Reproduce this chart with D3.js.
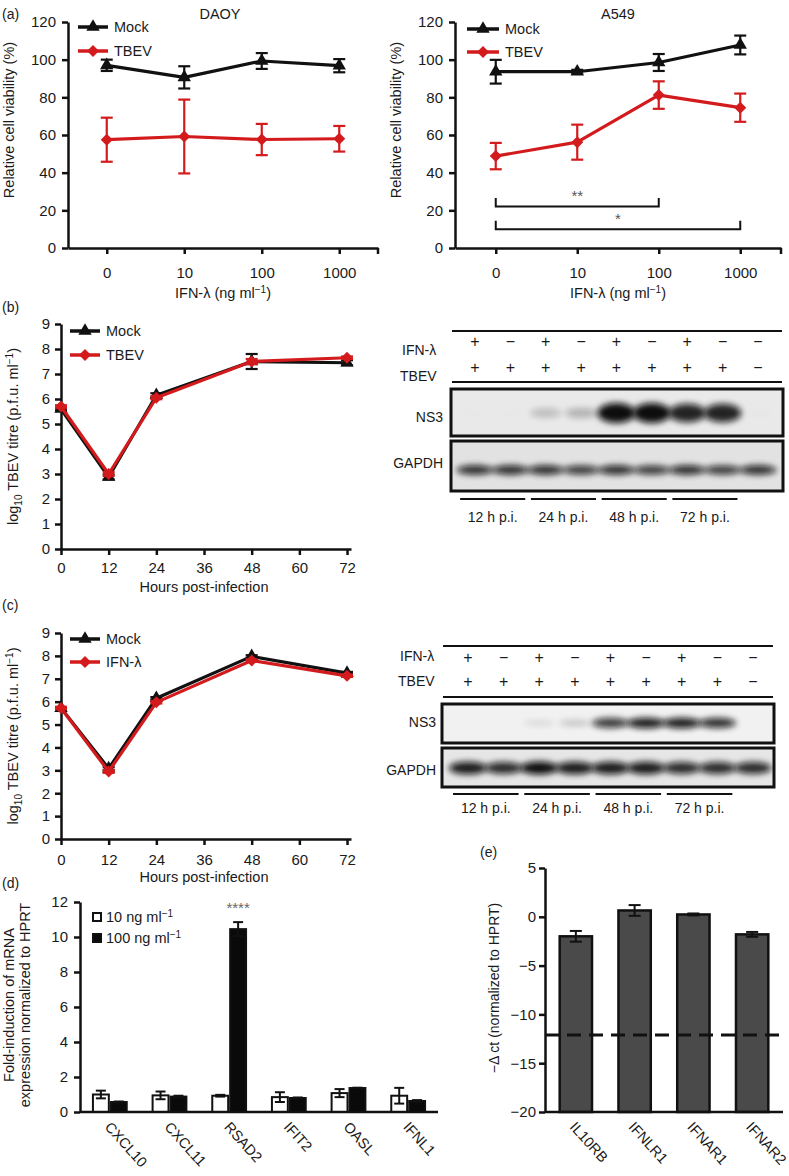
<!DOCTYPE html>
<html><head><meta charset="utf-8">
<script src="https://cdn.jsdelivr.net/npm/d3@7"></script>
<style>body{margin:0;background:#fff} svg{display:block;font-family:'Liberation Sans',Arial,Helvetica,sans-serif}</style>
</head><body><svg id="c" width="789" height="1176"></svg>
<script>
// ---------------- DATA ----------------
const doseLabels = ["0","10","100","1000"];
const daoyMock = [97, 90.6, 99.3, 96.8];
const daoyMockErr = [3, 5.9, 4.2, 3.5];
const daoyTbev = [57.5, 59.2, 57.6, 58];
const daoyTbevErr = [11.7, 19.6, 8.3, 6.8];
const a549Mock = [93.6, 93.6, 98.5, 107.8];
const a549MockErr = [6.3, 1, 4.5, 5];
const a549Tbev = [48.8, 56.2, 81.2, 74.5];
const a549TbevErr = [7, 9.3, 7.3, 7.5];
const sigBrackets = [{from:"0", to:"100", y:22, label:"**"}, {from:"0", to:"1000", y:10, label:"*"}];

const hours = [0, 12, 24, 48, 72];
const hourTicks = [0, 12, 24, 36, 48, 60, 72];
const bMock = [5.6, 2.88, 6.15, 7.5, 7.45];
const bMockErr = [0.05, 0.1, 0.08, 0.3, 0.1];
const bTbev = [5.7, 3.0, 6.05, 7.5, 7.65];
const bTbevErr = [0.05, 0.08, 0.06, 0.1, 0.05];
const cMock = [5.72, 3.08, 6.15, 7.98, 7.25];
const cMockErr = [0.05, 0.06, 0.05, 0.05, 0.05];
const cIfn = [5.72, 2.95, 5.97, 7.8, 7.13];
const cIfnErr = [0.05, 0.06, 0.05, 0.05, 0.05];

const lanes = [0,1,2,3,4,5,6,7,8];
const ifnSigns = ["+","−","+","−","+","−","+","−","−"];
const tbevSigns = ["+","+","+","+","+","+","+","+","−"];
const timeGroups = ["12 h p.i.","24 h p.i.","48 h p.i.","72 h p.i."];
const ns3B = [0.02, 0.02, 0.3, 0.35, 1, 1, 0.92, 0.92, 0.05];
const gapdhB = [0.9, 0.9, 0.9, 0.85, 0.9, 0.85, 0.9, 0.85, 0.9];
const ns3C = [0.01, 0.01, 0.2, 0.3, 0.85, 0.95, 0.95, 0.9, 0.01];
const gapdhC = [0.95, 0.9, 1, 0.95, 0.95, 0.95, 0.9, 0.9, 0.9];

const genes = ["CXCL10","CXCL11","RSAD2","IFIT2","OASL","IFNL1"];
const doses = ["10","100"];
const d10 = [1.0, 0.95, 0.93, 0.85, 1.08, 0.93];
const d10Err = [0.22, 0.22, 0.05, 0.28, 0.23, 0.45];
const d100 = [0.57, 0.88, 10.45, 0.8, 1.37, 0.63];
const d100Err = [0.03, 0.05, 0.4, 0.03, 0.02, 0.05];

const receptors = ["IL10RB","IFNLR1","IFNAR1","IFNAR2"];
const eVals = [-2.0, 0.65, 0.24, -1.8];
const eErr = [0.55, 0.55, 0.1, 0.25];
const eThreshold = -12.1;

// ---------------- HELPERS ----------------
const FF = "'Liberation Sans', Arial, Helvetica, sans-serif";
const RED = "#d31b1d", INK = "#111";
const svg = d3.select("#c");
const defs = svg.append("defs");
defs.append("filter").attr("id","blur").attr("x","-50%").attr("y","-100%").attr("width","200%").attr("height","300%")
  .append("feGaussianBlur").attr("stdDeviation", 3);

function rich(t, parts){
  if (typeof parts === "string") parts = [[parts, null]];
  let shift = 0;
  parts.forEach(([s, m]) => {
    const target = m === "sup" ? -5 : m === "sub" ? 4 : 0;
    const ts = t.append("tspan").text(s);
    if (target - shift) ts.attr("dy", target - shift);
    if (m) ts.attr("font-size", 10);
    shift = target;
  });
}
function label(x, y, parts, o = {}){
  const t = svg.append("text").attr("x", x).attr("y", y)
    .attr("font-size", o.size || 14).attr("fill", o.fill || "#1a1a1a")
    .attr("text-anchor", o.anchor || "start");
  if (o.rotate) t.attr("transform", `rotate(${o.rotate},${x},${y})`);
  rich(t, parts);
  return t;
}
function styleAxis(g, fs){
  g.attr("font-family", FF).attr("font-size", fs || 15);
  g.select(".domain").attr("stroke", INK).attr("stroke-width", 2.5);
  g.selectAll(".tick line").attr("stroke", INK).attr("stroke-width", 2.5);
  g.selectAll(".tick text").attr("fill", "#1a1a1a");
}
const triSym = d3.symbol(d3.symbolTriangle, 78);
const diaSym = d3.symbol(d3.symbolSquare, 72);
function marker(g, cx, cy, shape, color){
  g.append("path").attr("d", shape === "tri" ? triSym() : diaSym())
    .attr("transform", `translate(${cx},${cy})` + (shape === "tri" ? "" : " rotate(45)"))
    .attr("fill", color);
}
function series(x, y, xs, vals, errs, color, shape){
  const g = svg.append("g");
  g.append("path").datum(vals)
    .attr("d", d3.line().x((d, i) => x(xs[i])).y(d => y(d)))
    .attr("fill", "none").attr("stroke", color).attr("stroke-width", 3.2).attr("stroke-linejoin", "round");
  const eb = g.append("g").attr("stroke", color).attr("stroke-width", 2.2);
  vals.forEach((v, i) => {
    const e = errs[i]; if (!e) return;
    const cx = x(xs[i]);
    eb.append("line").attr("x1", cx).attr("x2", cx).attr("y1", y(v - e)).attr("y2", y(v + e));
    [v - e, v + e].forEach(w => eb.append("line").attr("x1", cx - 6).attr("x2", cx + 6).attr("y1", y(w)).attr("y2", y(w)));
  });
  vals.forEach((v, i) => marker(g, x(xs[i]), y(v), shape, color));
}
function legend(x0, x1, y, color, shape, parts){
  svg.append("line").attr("x1", x0).attr("x2", x1).attr("y1", y).attr("y2", y)
    .attr("stroke", color).attr("stroke-width", 3.5);
  marker(svg, (x0 + x1) / 2, y, shape, color);
  label(x1 + 6, y + 5, parts, {size: 14.5});
}

// ---------------- PANEL (a) ----------------
function panelA(o){
  const x = d3.scalePoint().domain(doseLabels).range(o.xr).padding(0.5);
  const y = d3.scaleLinear().domain([0, 120]).range([248, 22]);
  const gy = svg.append("g").attr("transform", `translate(${o.xr[0]},0)`)
    .call(d3.axisLeft(y).tickValues(d3.range(0, 121, 20)).tickSize(6).tickSizeOuter(0).tickPadding(6));
  styleAxis(gy);
  const gx = svg.append("g").attr("transform", `translate(0,${y(0)})`)
    .call(d3.axisBottom(x).tickSize(6).tickSizeOuter(0).tickPadding(13));
  styleAxis(gx);
  gx.append("line").attr("x1", x.range()[1]).attr("x2", x.range()[1]).attr("y1", 0).attr("y2", 6)
    .attr("stroke", INK).attr("stroke-width", 2.5);
  label((o.xr[0] + o.xr[1]) / 2, 298, [["IFN-λ (ng ml", null], ["−1", "sup"], [")", null]], {anchor: "middle", size: 14.5});
  label(o.titleX, 19, o.title, {anchor: "middle", size: 14.5});
  label(o.yTitleX, 120, "Relative cell viability (%)", {anchor: "middle", rotate: -90, size: 14.5});
  series(x, y, doseLabels, o.mock, o.mockErr, INK, "tri");
  series(x, y, doseLabels, o.tbev, o.tbevErr, RED, "dia");
  legend(o.leg[0], o.leg[1], o.leg[2], INK, "tri", "Mock");
  legend(o.leg[0], o.leg[1], o.leg[3], RED, "dia", "TBEV");
  if (o.sig) {
    o.sig.forEach(b => {
      const x0 = x(b.from), x1 = x(b.to), yy = y(b.y), yt = y(b.y + 4.5);
      svg.append("path").attr("d", `M${x0},${yt}V${yy}H${x1}V${yt}`)
        .attr("fill", "none").attr("stroke", INK).attr("stroke-width", 2);
      label((x0 + x1) / 2, yt + 3, b.label, {anchor: "middle", size: 15, fill: "#555"});
    });
  }
}
label(2, 19, "(a)");
panelA({xr: [68, 378], title: "DAOY", titleX: 220, yTitleX: 14, mock: daoyMock, mockErr: daoyMockErr,
  tbev: daoyTbev, tbevErr: daoyTbevErr, leg: [78, 108, 27, 51]});
panelA({xr: [455, 781], title: "A549", titleX: 618, yTitleX: 401, mock: a549Mock, mockErr: a549MockErr,
  tbev: a549Tbev, tbevErr: a549TbevErr, leg: [467, 499, 29, 52], sig: sigBrackets});

// ---------------- PANELS (b),(c) growth curves ----------------
function growth(o){
  const x = d3.scaleLinear().domain([0, 73]).range([61, 351]);
  const y = d3.scaleLinear().domain([0, 9]).range(o.yr);
  const gy = svg.append("g").attr("transform", `translate(61,0)`)
    .call(d3.axisLeft(y).tickValues(d3.range(0, 10)).tickSize(6).tickSizeOuter(0).tickPadding(5));
  styleAxis(gy);
  const gx = svg.append("g").attr("transform", `translate(0,${o.yr[0]})`)
    .call(d3.axisBottom(x).tickValues(hourTicks).tickSize(6).tickSizeOuter(0).tickPadding(o.xpad));
  styleAxis(gx);
  label(204, o.xTitleY, "Hours post-infection", {anchor: "middle", size: 14.5});
  label(18, (o.yr[0] + o.yr[1]) / 2, [["log", null], ["10", "sub"], [" TBEV titre (p.f.u. ml", null], ["−1", "sup"], [")", null]],
    {anchor: "middle", rotate: -90, size: 14.5});
  series(x, y, hours, o.a, o.aErr, INK, "tri");
  series(x, y, hours, o.b, o.bErr, RED, "dia");
  legend(70, 100, o.leg[0], INK, "tri", "Mock");
  legend(70, 100, o.leg[1], RED, "dia", o.bName);
}
label(2, 312, "(b)");
growth({yr: [549, 324], xpad: 7, xTitleY: 592, a: bMock, aErr: bMockErr, b: bTbev, bErr: bTbevErr, leg: [331, 355], bName: "TBEV"});
label(2, 610, "(c)");
growth({yr: [839, 633], xpad: 9, xTitleY: 882, a: cMock, aErr: cMockErr, b: cIfn, bErr: cIfnErr, leg: [639, 662], bName: "IFN-λ"});

// ---------------- Western blots ----------------
function blot(o){
  const lane = d3.scalePoint().domain(lanes).range(o.lanes);
  const st = lane.step();
  const g = svg.append("g");
  [o.top, o.bottom].forEach(yy => g.append("line").attr("x1", o.box[0] + 1).attr("x2", o.box[1] - 1)
    .attr("y1", yy).attr("y2", yy).attr("stroke", INK).attr("stroke-width", 2));
  label(o.labelX, o.ifnLabelY, "IFN-λ");
  label(o.labelX - 2, o.tbevLabelY, "TBEV");
  ifnSigns.forEach((s, i) => label(lane(i), o.ifnY, s, {anchor: "middle", size: 16}));
  tbevSigns.forEach((s, i) => label(lane(i), o.tbevY, s, {anchor: "middle", size: 16}));
  o.panels.forEach((p, k) => {
    const id = o.id + "clip" + k;
    defs.append("clipPath").attr("id", id).append("rect")
      .attr("x", o.box[0]).attr("y", p.y0).attr("width", o.box[1] - o.box[0]).attr("height", p.y1 - p.y0);
    const pg = g.append("g").attr("clip-path", `url(#${id})`);
    pg.append("rect").attr("x", o.box[0]).attr("y", p.y0).attr("width", o.box[1] - o.box[0]).attr("height", p.y1 - p.y0)
      .attr("fill", p.bg);
    pg.selectAll("ellipse").data(p.vals).join("ellipse")
      .attr("cx", (d, i) => lane(i)).attr("cy", p.cy)
      .attr("rx", d => st * (0.4 + 0.14 * d)).attr("ry", d => p.ry0 + d * p.ry1)
      .attr("fill", "#0a0a0a").attr("opacity", d => Math.min(1, Math.pow(d, 1.3))).attr("filter", "url(#blur)");
    g.append("rect").attr("x", o.box[0]).attr("y", p.y0).attr("width", o.box[1] - o.box[0]).attr("height", p.y1 - p.y0)
      .attr("fill", "none").attr("stroke", INK).attr("stroke-width", 3);
    label(o.nameX, p.labelY, p.name, {anchor: "end"});
  });
  timeGroups.forEach((t, k) => {
    const a = lane(2 * k) - 0.42 * st, b = lane(2 * k + 1) + 0.42 * st;
    g.append("line").attr("x1", a).attr("x2", b).attr("y1", o.timeLineY).attr("y2", o.timeLineY)
      .attr("stroke", INK).attr("stroke-width", 2);
    label((a + b) / 2, o.timeTextY, t, {anchor: "middle"});
  });
}
blot({id: "b", lanes: [475, 758], box: [451, 783], top: 331, bottom: 382, labelX: 402, ifnLabelY: 355, tbevLabelY: 381,
  ifnY: 347, tbevY: 373, nameX: 443, timeLineY: 499, timeTextY: 522,
  panels: [
    {name: "NS3", y0: 389, y1: 436, cy: 413, vals: ns3B, bg: "#e9e9e9", ry0: 2, ry1: 8, labelY: 422},
    {name: "GAPDH", y0: 441, y1: 491, cy: 470, vals: gapdhB, bg: "#e2e2e2", ry0: 2, ry1: 3, labelY: 468}
  ]});
blot({id: "c", lanes: [468, 753], box: [442, 774], top: 646, bottom: 697, labelX: 400, ifnLabelY: 661, tbevLabelY: 686,
  ifnY: 663, tbevY: 687, nameX: 436, timeLineY: 794, timeTextY: 813,
  panels: [
    {name: "NS3", y0: 704, y1: 743, cy: 723, vals: ns3C, bg: "#f1f1f1", ry0: 1.5, ry1: 4, labelY: 727},
    {name: "GAPDH", y0: 748, y1: 787, cy: 768, vals: gapdhC, bg: "#e6e6e6", ry0: 2, ry1: 4.5, labelY: 775}
  ]});

// ---------------- PANEL (d) ----------------
label(2, 888, "(d)");
(function(){
  const x = d3.scaleBand().domain(genes).range([80, 438]).paddingInner(0.4).paddingOuter(0.2);
  const xs = d3.scaleBand().domain(doses).range([0, x.bandwidth()]);
  const y = d3.scaleLinear().domain([0, 12]).range([1112, 902]);
  const gy = svg.append("g").attr("transform", "translate(80,0)")
    .call(d3.axisLeft(y).tickValues(d3.range(0, 13, 2)).tickSize(6).tickSizeOuter(0).tickPadding(6));
  styleAxis(gy);
  const vals = {"10": d10, "100": d100}, errs = {"10": d10Err, "100": d100Err};
  const g = svg.append("g");
  genes.forEach((gn, i) => {
    doses.forEach(ds => {
      const v = vals[ds][i], e = errs[ds][i];
      const bx = x(gn) + xs(ds), w = xs.bandwidth();
      g.append("rect").attr("x", bx + 1).attr("y", y(v)).attr("width", w - 2).attr("height", y(0) - y(v))
        .attr("fill", ds === "10" ? "#fff" : "#0a0a0a").attr("stroke", INK).attr("stroke-width", 2);
      const cx = bx + w / 2;
      g.append("line").attr("x1", cx).attr("x2", cx).attr("y1", y(v - e)).attr("y2", y(v + e)).attr("stroke", INK).attr("stroke-width", 2);
      [v - e, v + e].forEach(q => g.append("line").attr("x1", cx - 5).attr("x2", cx + 5).attr("y1", y(q)).attr("y2", y(q))
        .attr("stroke", INK).attr("stroke-width", 2));
    });
  });
  const gx = svg.append("g").attr("transform", `translate(0,${y(0)})`)
    .call(d3.axisBottom(x).tickSize(0).tickSizeOuter(0));
  styleAxis(gx, 14.5);
  gx.select(".domain").attr("d", `M${x.range()[0]},0H${x.range()[1]}`);
  gx.selectAll(".tick text").attr("y", 0).attr("dy", "0.35em").attr("text-anchor", "start")
    .attr("transform", "translate(-2,12) rotate(48)");
  label(x("RSAD2") + xs("100") + xs.bandwidth() / 2, 913, "****", {anchor: "middle", size: 15, fill: "#666"});
  // legend
  [["10", 913, "#fff"], ["100", 934, "#0a0a0a"]].forEach(([d, yy, f]) => {
    svg.append("rect").attr("x", 93).attr("y", yy).attr("width", 8).attr("height", 8).attr("fill", f)
      .attr("stroke", INK).attr("stroke-width", 2);
    label(106, yy + 9, [[d + " ng ml", null], ["−1", "sup"]], {size: 14.5});
  });
  label(14, 1005, "Fold-induction of mRNA", {anchor: "middle", rotate: -90, size: 14.5});
  label(30, 1005, "expression normalized to HPRT", {anchor: "middle", rotate: -90, size: 14.5});
})();

// ---------------- PANEL (e) ----------------
label(480, 857, "(e)");
(function(){
  const x = d3.scaleBand().domain(receptors).range([545, 783]).paddingInner(0.45).paddingOuter(0.25);
  const y = d3.scaleLinear().domain([-20, 5]).range([1112, 868]);
  const gy = svg.append("g").attr("transform", "translate(545,0)")
    .call(d3.axisLeft(y).tickValues([5, 0, -5, -10, -15, -20]).tickSize(6).tickSizeOuter(0).tickPadding(3));
  styleAxis(gy);
  const g = svg.append("g");
  receptors.forEach((r, i) => {
    const v = eVals[i], e = eErr[i];
    g.append("rect").attr("x", x(r)).attr("y", y(v)).attr("width", x.bandwidth()).attr("height", y(-20) - y(v))
      .attr("fill", "#4a4a4a").attr("stroke", INK).attr("stroke-width", 2.5);
    const cx = x(r) + x.bandwidth() / 2;
    g.append("line").attr("x1", cx).attr("x2", cx).attr("y1", y(v - e)).attr("y2", y(v + e)).attr("stroke", INK).attr("stroke-width", 2);
    [v - e, v + e].forEach(q => g.append("line").attr("x1", cx - 6).attr("x2", cx + 6).attr("y1", y(q)).attr("y2", y(q))
      .attr("stroke", INK).attr("stroke-width", 2));
  });
  const gx = svg.append("g").attr("transform", `translate(0,${y(-20)})`)
    .call(d3.axisBottom(x).tickSize(0).tickSizeOuter(0));
  styleAxis(gx, 14.5);
  gx.select(".domain").attr("d", `M${x.range()[0]},0H${x.range()[1]}`);
  gx.selectAll(".tick text").attr("y", 0).attr("dy", "0.35em").attr("text-anchor", "start")
    .attr("transform", "translate(-3,12) rotate(48)");
  svg.append("line").attr("x1", x.range()[0]).attr("x2", x.range()[1]).attr("y1", y(eThreshold)).attr("y2", y(eThreshold))
    .attr("stroke", INK).attr("stroke-width", 3).attr("stroke-dasharray", "14,8");
  label(499, 988, "−Δ ct (normalized to HPRT)", {anchor: "middle", rotate: -90, size: 14});
})();
</script></body></html>
